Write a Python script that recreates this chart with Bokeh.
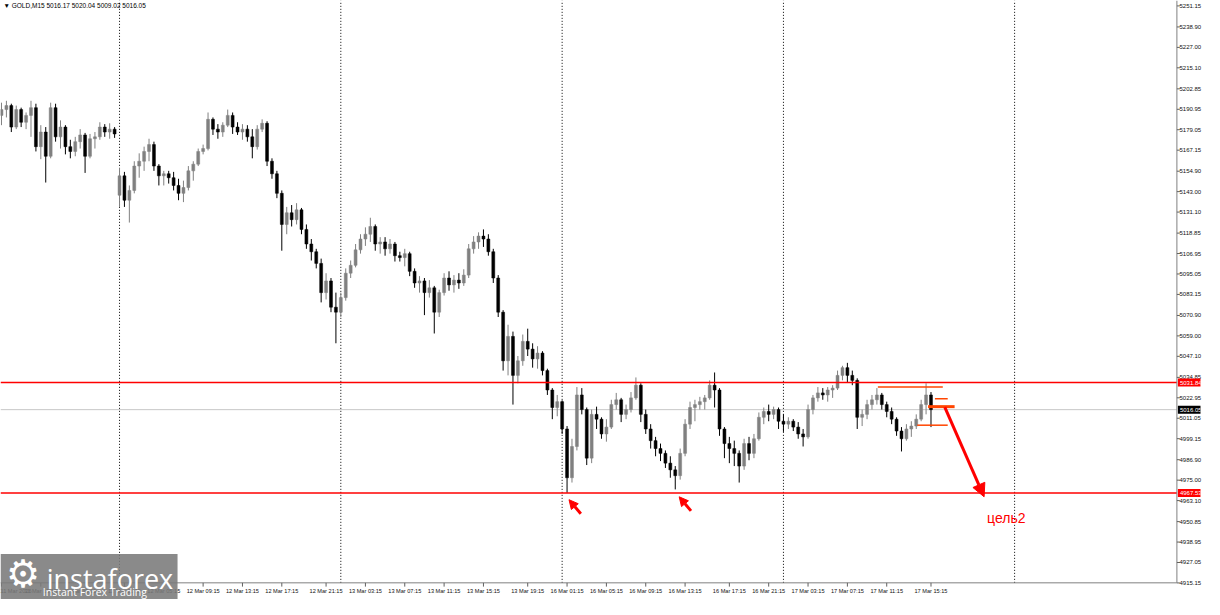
from bokeh.plotting import figure
from bokeh.models import (Range1d, FixedTicker, NumeralTickFormatter, Label,
                          Arrow, NormalHead, BoxAnnotation, ColumnDataSource)
from bokeh.embed import file_html
from bokeh.resources import INLINE

# ---------------- data (GOLD, M15 view) ----------------
open_ = [5187.4, 5190.8, 5193.1, 5180.6, 5190.8, 5183.4, 5187.4, 5191.9, 5169.2, 5177.7,
         5163.6, 5191.9, 5174.9, 5180.6, 5169.2, 5166.4, 5172.1, 5176.0, 5163.6, 5173.8,
         5174.9, 5180.6, 5177.7, 5179.4, 5140.9, 5152.2, 5138.0, 5143.7, 5157.9, 5160.7,
         5166.4, 5170.4, 5157.9, 5152.2, 5153.4, 5151.1, 5146.6, 5142.0, 5145.4, 5155.1,
         5159.0, 5166.4, 5168.1, 5185.1, 5179.4, 5177.7, 5181.7, 5187.4, 5180.6, 5177.7,
         5179.4, 5174.9, 5169.2, 5179.4, 5182.8, 5160.7, 5153.4, 5142.0, 5123.9, 5130.7,
         5126.7, 5132.4, 5121.0, 5112.5, 5108.0, 5101.2, 5084.2, 5091.0, 5075.7, 5072.8,
         5081.3, 5095.5, 5100.1, 5109.1, 5115.4, 5118.2, 5122.7, 5112.5, 5113.7, 5109.7,
         5112.5, 5105.7, 5104.6, 5106.9, 5096.6, 5089.8, 5091.0, 5084.2, 5087.0, 5072.8,
         5084.2, 5092.7, 5088.7, 5091.5, 5089.8, 5094.4, 5109.7, 5113.7, 5117.1, 5115.4,
         5108.0, 5092.7, 5072.8, 5044.5, 5058.7, 5036.0, 5044.5, 5055.8, 5051.3, 5045.6,
         5049.0, 5038.8, 5027.5, 5017.3, 5020.7, 5004.8, 4976.4, 4994.6, 5024.6, 5016.1,
         4987.8, 5013.3, 5010.5, 5001.9, 5005.9, 5019.0, 5021.8, 5013.3, 5016.1, 5022.9,
         5030.3, 5013.3, 5004.8, 4998.0, 4993.4, 4990.6, 4984.9, 4981.0, 4977.6, 4990.6,
         5007.6, 5017.3, 5019.0, 5020.7, 5022.9, 5030.3, 5027.5, 5004.8, 4996.3, 4993.4,
         4990.6, 4983.2, 4996.3, 4990.6, 4999.1, 5011.6, 5015.0, 5013.3, 5016.1, 5009.3,
         5007.6, 5009.3, 5005.9, 5001.9, 5000.2, 5016.1, 5022.9, 5025.8, 5024.6, 5027.5,
         5028.6, 5036.0, 5040.5, 5036.0, 5033.1, 5011.6, 5013.3, 5019.0, 5021.8, 5024.6,
         5019.0, 5015.0, 5010.5, 5003.6, 4999.1, 5004.8, 5006.5, 5010.5, 5019.0, 5024.6]
high = [5194.8, 5195.9, 5194.2, 5193.1, 5191.9, 5189.1, 5195.9, 5194.2, 5181.7, 5180.6,
        5194.8, 5194.2, 5184.5, 5181.7, 5173.2, 5174.9, 5179.4, 5177.2, 5176.6, 5177.7,
        5183.4, 5182.3, 5182.8, 5180.6, 5156.8, 5154.5, 5146.6, 5160.7, 5165.3, 5169.2,
        5173.8, 5172.1, 5159.0, 5155.1, 5155.1, 5154.5, 5150.5, 5149.4, 5157.9, 5160.7,
        5168.1, 5170.4, 5189.1, 5186.2, 5182.3, 5183.4, 5190.8, 5189.1, 5183.4, 5182.3,
        5181.7, 5179.4, 5181.7, 5185.1, 5184.0, 5162.4, 5155.1, 5143.7, 5134.1, 5135.2,
        5136.3, 5133.5, 5123.9, 5115.4, 5109.7, 5104.0, 5095.5, 5092.7, 5084.2, 5084.2,
        5098.3, 5102.9, 5112.5, 5118.2, 5122.2, 5127.8, 5123.9, 5116.5, 5116.5, 5115.4,
        5113.7, 5108.0, 5109.7, 5108.0, 5098.3, 5093.8, 5092.7, 5091.5, 5088.1, 5085.9,
        5095.5, 5096.6, 5094.4, 5095.5, 5097.8, 5112.5, 5117.1, 5119.3, 5121.0, 5118.2,
        5109.7, 5094.4, 5074.0, 5065.5, 5061.5, 5047.3, 5059.8, 5063.2, 5054.7, 5053.0,
        5050.1, 5039.9, 5028.6, 5024.6, 5021.5, 5006.5, 4999.1, 5029.2, 5028.6, 5017.3,
        5016.1, 5017.8, 5011.6, 5010.5, 5021.8, 5025.8, 5022.9, 5019.0, 5026.3, 5034.8,
        5031.4, 5016.1, 5007.6, 5000.2, 4996.3, 4992.3, 4988.9, 4983.2, 4993.4, 5010.5,
        5020.7, 5021.8, 5023.5, 5024.6, 5033.1, 5037.7, 5028.6, 5005.9, 5000.2, 4998.0,
        4992.3, 4999.1, 5000.2, 5001.9, 5014.4, 5017.3, 5019.0, 5017.8, 5017.3, 5013.3,
        5011.6, 5010.5, 5008.8, 5004.8, 5019.0, 5024.6, 5029.2, 5028.6, 5029.2, 5030.3,
        5038.8, 5041.6, 5043.3, 5038.8, 5034.3, 5016.1, 5021.8, 5024.6, 5028.6, 5025.8,
        5020.7, 5017.3, 5011.6, 5005.9, 5007.6, 5009.3, 5013.3, 5021.8, 5031.4, 5026.3]
low = [5181.7, 5186.2, 5177.7, 5179.4, 5180.6, 5179.4, 5174.9, 5166.4, 5161.9, 5148.3,
       5162.4, 5172.1, 5168.1, 5164.7, 5162.4, 5163.6, 5168.1, 5153.9, 5162.4, 5168.1,
       5173.2, 5174.9, 5173.8, 5174.3, 5134.1, 5134.1, 5125.0, 5142.0, 5151.1, 5155.1,
       5160.7, 5155.1, 5146.6, 5146.6, 5147.7, 5143.7, 5138.0, 5136.9, 5143.7, 5149.4,
       5157.9, 5164.7, 5167.0, 5176.0, 5173.8, 5174.9, 5180.6, 5176.6, 5176.0, 5173.2,
       5172.1, 5162.4, 5167.5, 5177.7, 5157.9, 5150.5, 5139.2, 5108.6, 5118.2, 5122.7,
       5123.9, 5118.2, 5109.7, 5102.9, 5098.3, 5078.5, 5080.2, 5072.8, 5054.7, 5070.0,
       5079.5, 5092.7, 5098.9, 5106.9, 5111.4, 5113.7, 5108.6, 5106.9, 5105.7, 5106.9,
       5102.3, 5102.3, 5099.5, 5093.8, 5087.0, 5084.2, 5071.1, 5081.3, 5060.4, 5070.0,
       5082.5, 5085.3, 5084.2, 5086.4, 5088.1, 5092.7, 5106.9, 5109.7, 5110.8, 5105.7,
       5089.8, 5070.0, 5038.8, 5036.0, 5019.0, 5031.4, 5041.6, 5047.3, 5040.5, 5039.9,
       5036.0, 5024.6, 5010.5, 5012.2, 5001.9, 4967.6, 4973.6, 4992.3, 5013.3, 4983.8,
       4984.9, 5004.8, 4999.1, 4997.4, 5004.8, 5016.1, 5008.8, 5010.5, 5014.4, 5021.8,
       5008.8, 5001.9, 4993.4, 4988.9, 4986.1, 4982.1, 4976.4, 4969.6, 4975.3, 4988.9,
       5004.8, 5009.3, 5016.1, 5016.1, 5021.8, 5017.3, 5000.8, 4987.8, 4984.9, 4983.2,
       4973.6, 4981.0, 4986.6, 4987.8, 4998.0, 5007.6, 5009.3, 5010.5, 5004.8, 5003.1,
       5004.8, 5003.6, 4999.1, 4994.6, 4999.1, 5013.3, 5020.7, 5021.8, 5020.7, 5022.9,
       5027.5, 5033.1, 5032.0, 5030.3, 5004.8, 5006.5, 5010.5, 5016.1, 5019.0, 5016.1,
       5011.6, 5007.6, 5000.8, 4991.7, 4998.0, 5000.2, 5004.8, 5009.3, 5013.3, 5005.9]
close = [5190.8, 5193.1, 5180.6, 5190.8, 5183.4, 5187.4, 5191.9, 5169.2, 5177.7, 5163.6,
         5191.9, 5174.9, 5180.6, 5169.2, 5166.4, 5172.1, 5176.0, 5163.6, 5173.8, 5174.9,
         5180.6, 5177.7, 5179.4, 5176.6, 5152.2, 5138.0, 5143.7, 5157.9, 5160.7, 5166.4,
         5170.4, 5157.9, 5152.2, 5153.4, 5151.1, 5146.6, 5142.0, 5145.4, 5155.1, 5159.0,
         5166.4, 5168.1, 5185.1, 5179.4, 5177.7, 5181.7, 5187.4, 5180.6, 5177.7, 5179.4,
         5174.9, 5169.2, 5179.4, 5182.8, 5160.7, 5153.4, 5142.0, 5123.9, 5130.7, 5126.7,
         5132.4, 5121.0, 5112.5, 5108.0, 5101.2, 5084.2, 5091.0, 5075.7, 5072.8, 5081.3,
         5095.5, 5100.1, 5109.1, 5115.4, 5118.2, 5122.7, 5112.5, 5113.7, 5109.7, 5112.5,
         5105.7, 5104.6, 5106.9, 5096.6, 5089.8, 5091.0, 5084.2, 5087.0, 5072.8, 5084.2,
         5092.7, 5088.7, 5091.5, 5089.8, 5094.4, 5109.7, 5113.7, 5117.1, 5115.4, 5108.0,
         5092.7, 5072.8, 5044.5, 5058.7, 5036.0, 5044.5, 5055.8, 5051.3, 5045.6, 5049.0,
         5038.8, 5027.5, 5017.3, 5020.7, 5004.8, 4976.4, 4994.6, 5024.6, 5016.1, 4987.8,
         5013.3, 5010.5, 5001.9, 5005.9, 5019.0, 5021.8, 5013.3, 5016.1, 5022.9, 5030.3,
         5013.3, 5004.8, 4998.0, 4993.4, 4990.6, 4984.9, 4981.0, 4977.6, 4990.6, 5007.6,
         5017.3, 5019.0, 5020.7, 5022.9, 5030.3, 5027.5, 5004.8, 4996.3, 4993.4, 4990.6,
         4983.2, 4996.3, 4990.6, 4999.1, 5011.6, 5015.0, 5013.3, 5016.1, 5009.3, 5007.6,
         5009.3, 5005.9, 5001.9, 5000.2, 5016.1, 5022.9, 5025.8, 5024.6, 5027.5, 5028.6,
         5036.0, 5040.5, 5036.0, 5033.1, 5011.6, 5013.3, 5019.0, 5021.8, 5024.6, 5019.0,
         5015.0, 5010.5, 5003.6, 4999.1, 5004.8, 5006.5, 5010.5, 5019.0, 5024.6, 5016.05]

price_ticks = [5251.15, 5238.90, 5227.00, 5215.10, 5202.85, 5190.95, 5179.05, 5167.15,
               5154.90, 5143.00, 5131.10, 5118.85, 5106.95, 5095.05, 5083.15, 5070.90,
               5059.00, 5047.10, 5034.85, 5022.95, 5011.05, 4999.15, 4986.90, 4975.00,
               4963.10, 4950.85, 4938.95, 4927.05, 4915.15]
time_labels = ["11 Mar 2026", "11 Mar 15:15", "11 Mar 19:15", "12 Mar 01:15",
               "12 Mar 05:15", "12 Mar 09:15", "12 Mar 13:15", "12 Mar 17:15",
               "12 Mar 21:15", "13 Mar 03:15", "13 Mar 07:15", "13 Mar 11:15",
               "13 Mar 15:15", "13 Mar 19:15", "16 Mar 01:15", "16 Mar 05:15",
               "16 Mar 09:15", "16 Mar 13:15", "16 Mar 17:15", "16 Mar 21:15",
               "17 Mar 03:15", "17 Mar 07:15", "17 Mar 11:15", "17 Mar 15:15"]
time_label_bars = [0, 8, 16, 25, 33, 41, 49, 57, 66, 74, 82, 90, 98, 107, 115, 123,
                   131, 139, 148, 156, 164, 172, 180, 189]
day_start_bars = [24, 69, 114, 159, 206]
level_upper = 5031.84
level_lower = 4967.53
last_price = 5016.05
header_text = "\u25BC GOLD,M15  5016.17 5020.04 5009.02 5016.05"

# annotation marks (orange ranges)
range_x0 = [178.2, 189.8, 188.4, 186.2]
range_x1 = [191.4, 192.4, 193.8, 192.4]
range_y = [5029.2, 5022.4, 5017.8, 5007.0]
range_w = [1.5, 1.5, 3.0, 1.5]

# ---------------- figure ----------------
# The frame covers the whole picture; the price area ends at PX (right) and PY (bottom),
# the scales' labels are drawn by the axes inside the remaining strips.
X0, X1 = -0.2, 243.8
Y0, Y1 = 4905.5, 5254.3
PX, PY = 239.0, 4915.2

p = figure(width=1204, height=599, output_backend="svg", toolbar_location=None,
           x_range=Range1d(X0, X1), y_range=Range1d(Y0, Y1),
           y_axis_location="right", min_border_left=0, min_border_top=0,
           min_border_right=0, min_border_bottom=0)
p.outline_line_color = None
p.background_fill_color = "white"
p.border_fill_color = "white"
p.xgrid.visible = False
p.ygrid.visible = False

idx = list(range(len(close)))
col = ["#808080" if c >= o else "#000000" for o, c in zip(open_, close)]
src = ColumnDataSource(dict(x=idx, o=open_, h=high, l=low, c=close,
                            top=[max(o, c) for o, c in zip(open_, close)],
                            bot=[min(o, c) for o, c in zip(open_, close)],
                            col=col))

# period separators (dotted)
p.segment(x0=day_start_bars, x1=day_start_bars, y0=[PY] * len(day_start_bars),
          y1=[Y1] * len(day_start_bars), line_color="#000000", line_width=1, line_dash="1 2")
# current price line
p.segment(x0=[X0], x1=[PX], y0=[last_price], y1=[last_price], line_color="#c8c8c8", line_width=1)

# candles
p.segment(x0="x", y0="h", x1="x", y1="l", color="col", line_width=1, source=src)
p.vbar(x="x", width=0.6, top="top", bottom="bot", fill_color="col", line_color="col",
       line_width=0.5, source=src)

# red levels
p.segment(x0=[X0, X0], x1=[PX, PX], y0=[level_upper, level_lower],
          y1=[level_upper, level_lower], line_color="#ff0000", line_width=1.6)

# orange range marks
p.segment(x0=range_x0, y0=range_y, x1=range_x1, y1=range_y, line_color="#ff4500",
          line_width=range_w)

# scale borders and tick marks
p.segment(x0=[PX, X0], x1=[PX, PX], y0=[PY, PY], y1=[Y1, PY], line_color="#808080", line_width=1)
p.segment(x0=[PX] * len(price_ticks), x1=[PX + 0.6] * len(price_ticks),
          y0=price_ticks, y1=price_ticks, line_color="#606060", line_width=1)
p.segment(x0=time_label_bars, x1=time_label_bars, y0=[PY] * len(time_label_bars),
          y1=[PY - 2.2] * len(time_label_bars), line_color="#606060", line_width=1)

# target arrow
p.add_layout(Arrow(end=NormalHead(size=13, fill_color="#ff0000", line_color="#ff0000"),
                   x_start=191.8, y_start=5017.5, x_end=199.8, y_end=4965.3,
                   line_color="#ff0000", line_width=3))
# small arrows at the lows
for (xs, ys, xe, ye) in [(117.8, 4955.4, 115.4, 4963.6), (140.2, 4957.1, 137.8, 4965.3)]:
    p.add_layout(Arrow(end=NormalHead(size=9, fill_color="#ff0000", line_color="#ff0000"),
                       x_start=xs, y_start=ys, x_end=xe, y_end=ye,
                       line_color="#ff0000", line_width=3))

p.add_layout(Label(x=200.4, y=4953.2, text="цель2", text_color="#ff0000",
                   text_font="Liberation Sans", text_font_size="14px",
                   text_baseline="middle", text_align="left"))

# header
p.add_layout(Label(x=X0, y=Y1, x_offset=3, y_offset=-1, text=header_text,
                   text_font="Liberation Sans", text_font_size="6.5px",
                   text_baseline="top", text_align="left", text_color="#000000"))

# axes (labels placed inside the strips next to the price area)
ya = p.yaxis[0]
ya.ticker = FixedTicker(ticks=price_ticks)
ya.formatter = NumeralTickFormatter(format="0.00")
ya.major_label_text_font = "Liberation Sans"
ya.major_label_text_font_size = "6px"
ya.major_label_text_color = "#111111"
ya.major_tick_out = 0
ya.major_tick_in = 0
ya.minor_tick_out = 0
ya.minor_tick_in = 0
ya.major_label_standoff = -21
ya.axis_line_color = None
ya.major_tick_line_color = None

xa = p.xaxis[0]
xa.ticker = FixedTicker(ticks=time_label_bars)
xa.major_label_overrides = {b: t for b, t in zip(time_label_bars, time_labels)}
xa.major_label_text_font = "Liberation Sans"
xa.major_label_text_font_size = "5.6px"
xa.major_label_text_color = "#111111"
xa.major_label_text_align = "left"
xa.major_tick_out = 0
xa.major_tick_in = 0
xa.minor_tick_out = 0
xa.minor_tick_in = 0
xa.major_label_standoff = -12
xa.axis_line_color = None
xa.major_tick_line_color = None

# price tags on the scale
for pr, bg in ((level_upper, "#ff0000"), (level_lower, "#ff0000"), (last_price, "#000000")):
    p.add_layout(Label(x=PX, y=pr, x_offset=1, text=f"{pr:.2f}", text_color="white",
                       text_font="Liberation Sans", text_font_size="6px",
                       text_baseline="middle", text_align="left",
                       background_fill_color=bg, padding=2))

# logo (bottom-left)
p.add_layout(BoxAnnotation(left=X0, right=35.8, bottom=Y0, top=4932.0,
                           fill_color="#7a7a7a", fill_alpha=0.88, line_color=None))
p.add_layout(Label(x=4.4, y=4920.3, text="\u2699", text_color="white",
                   text_font="DejaVu Sans", text_font_size="38px",
                   text_baseline="middle", text_align="center"))
p.add_layout(Label(x=9.2, y=4917.6, text="instaforex", text_color="white",
                   text_font="Open Sans", text_font_size="27px",
                   text_baseline="alphabetic", text_align="left"))
p.add_layout(Label(x=8.4, y=4909.6, text="Instant Forex Trading", text_color="white",
                   text_font="Open Sans", text_font_size="10.5px",
                   text_baseline="alphabetic", text_align="left"))

open("out.html", "w").write(file_html(p, INLINE))
